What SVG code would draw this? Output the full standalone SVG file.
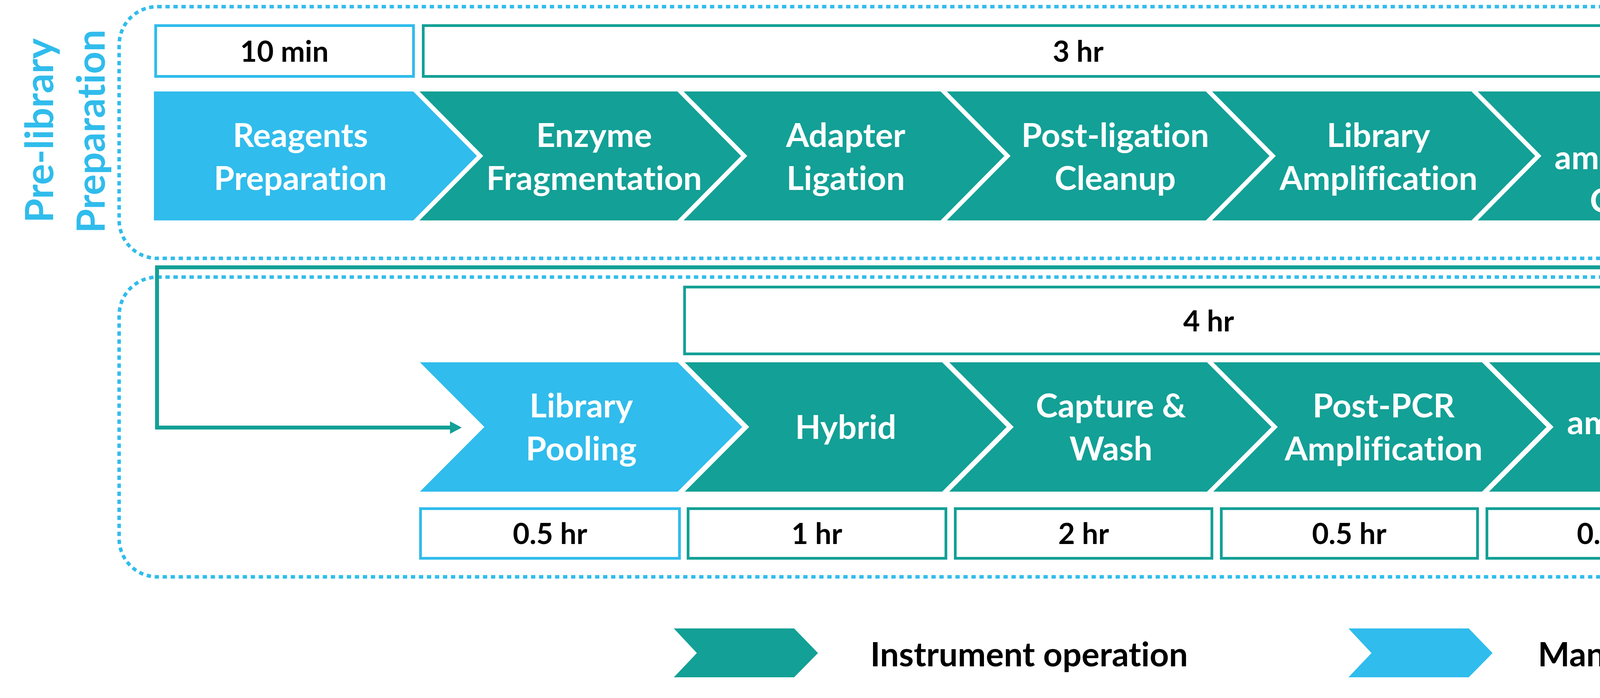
<svg xmlns="http://www.w3.org/2000/svg" width="5746" height="1786" viewBox="0 0 5746 1786">
<style>
.t{font-family:Lato,"Liberation Sans",sans-serif;font-weight:700;text-anchor:middle;font-variant-ligatures:none;font-feature-settings:"liga" 0}
.w{fill:#FFFFFF;font-size:85px}
.k{fill:#000000;font-size:74px}
.v{fill:#30BCEC;font-size:100px}
.lg{font-family:Lato,"Liberation Sans",sans-serif;font-weight:700;fill:#000000;font-size:86px;font-variant-ligatures:none;font-feature-settings:"liga" 0}
.blue{fill:#30BCEC}
.teal{fill:#13A096}
.bb{fill:#FFFFFF;stroke:#30BCEC;stroke-width:7}
.tb{fill:#FFFFFF;stroke:#13A096;stroke-width:7}
.dot{fill:none;stroke:#30BCEC;stroke-width:9;stroke-dasharray:11 9.5}
.conn{fill:none;stroke:#13A096;stroke-width:10}
</style>
<rect width="5746" height="1786" fill="#FFFFFF"/>

<g id="frames">
<rect class="dot" x="305" y="17" width="5181" height="644" rx="98" ry="98"/>
<rect class="dot" x="305" y="709" width="5181" height="767" rx="98" ry="98"/>
</g>

<g id="section-labels">
<text class="t v" transform="translate(136,334) rotate(-90)">Pre-library</text>
<text class="t v" transform="translate(268,336) rotate(-90)">Preparation</text>
<text class="t v" transform="translate(5651,1088) rotate(-90)">Hybrid Capture</text>
</g>

<g id="connectors">
<path class="conn" d="M5280 399 H5397 V684 H402 V1094 H1156"/>
<polygon class="teal" points="1152,1078 1182,1094 1152,1110"/>
</g>

<g id="time-row1">
<g id="t-10min"><rect class="bb" x="398.5" y="65.5" width="660" height="130"/><text class="t k" x="728" y="158">10 min</text></g>
<g id="t-3hr"><rect class="tb" x="1083.5" y="65.5" width="3352" height="130"/><text class="t k" x="2760" y="158">3 hr</text></g>
<g id="t-05hr-a"><rect class="bb" x="4464.5" y="65.5" width="656" height="130"/><text class="t k" x="4792" y="158">0.5 hr</text></g>
</g>

<g id="row1">
<g id="n-reagents"><polygon class="blue" points="394,234 1058,234 1221,399 1058,564 394,564"/>
<text class="t w" x="769" y="376">Reagents</text><text class="t w" x="769" y="486">Preparation</text></g>
<g id="n-enzyme"><polygon class="teal" points="1074,234 1734,234 1897,399 1734,564 1074,564 1237,399"/>
<text class="t w" x="1521" y="376">Enzyme</text><text class="t w" x="1521" y="486">Fragmentation</text></g>
<g id="n-adapter"><polygon class="teal" points="1750,234 2408,234 2571,399 2408,564 1750,564 1913,399"/>
<text class="t w" x="2165" y="376">Adapter</text><text class="t w" x="2165" y="486">Ligation</text></g>
<g id="n-postlig"><polygon class="teal" points="2424,234 3087,234 3250,399 3087,564 2424,564 2587,399"/>
<text class="t w" x="2855" y="376">Post-ligation</text><text class="t w" x="2855" y="486">Cleanup</text></g>
<g id="n-libamp"><polygon class="teal" points="3103,234 3767,234 3930,399 3767,564 3103,564 3266,399"/>
<text class="t w" x="3529" y="376">Library</text><text class="t w" x="3529" y="486">Amplification</text></g>
<g id="n-postamp1"><polygon class="teal" points="3783,234 4446,234 4609,399 4446,564 3783,564 3946,399"/>
<text class="t w" x="4225" y="323">Post-</text><text class="t w" x="4225" y="433">amplification</text><text class="t w" x="4225" y="543">Cleanup</text></g>
<g id="n-prelibqc"><polygon class="blue" points="4463,234 5121,234 5284,399 5121,564 4463,564 4626,399"/>
<text class="t w" x="4879" y="376">Pre-Library</text><text class="t w" x="4879" y="486">QC</text></g>
</g>

<g id="time-row2-top">
<g id="t-4hr"><rect class="tb" x="1752.5" y="734.5" width="2684" height="171"/><text class="t k" x="3094" y="848">4 hr</text></g>
</g>

<g id="row2">
<g id="n-pooling"><polygon class="blue" points="1075,927 1735,927 1900,1092.5 1735,1258 1075,1258 1240,1092.5"/>
<text class="t w" x="1488" y="1068">Library</text><text class="t w" x="1488" y="1178">Pooling</text></g>
<g id="n-hybrid"><polygon class="teal" points="1753,927 2412,927 2577,1092.5 2412,1258 1753,1258 1918,1092.5"/>
<text class="t w" x="2165" y="1123">Hybrid</text></g>
<g id="n-capture"><polygon class="teal" points="2430,927 3090,927 3255,1092.5 3090,1258 2430,1258 2595,1092.5"/>
<text class="t w" x="2844" y="1068">Capture &amp;</text><text class="t w" x="2844" y="1178">Wash</text></g>
<g id="n-postpcr"><polygon class="teal" points="3106,927 3794,927 3959,1092.5 3794,1258 3106,1258 3271,1092.5"/>
<text class="t w" x="3542" y="1068">Post-PCR</text><text class="t w" x="3542" y="1178">Amplification</text></g>
<g id="n-postamp2"><polygon class="teal" points="3812,927 4508,927 4673,1092.5 4508,1258 3812,1258 3977,1092.5"/>
<text class="t w" x="4257" y="1001">Post-</text><text class="t w" x="4257" y="1111">amplification</text><text class="t w" x="4257" y="1221">Cleanup</text></g>
<g id="n-libqc"><polygon class="blue" points="4525,927 5180,927 5345,1092.5 5180,1258 4525,1258 4690,1092.5"/>
<text class="t w" x="4936" y="1123">Library QC</text></g>
</g>

<g id="time-row2-bottom">
<g id="t-b1"><rect class="bb" x="1076.5" y="1301.5" width="663" height="127"/><text class="t k" x="1408" y="1392">0.5 hr</text></g>
<g id="t-b2"><rect class="tb" x="1761.5" y="1301.5" width="660" height="127"/><text class="t k" x="2091" y="1392">1 hr</text></g>
<g id="t-b3"><rect class="tb" x="2445.5" y="1301.5" width="657" height="127"/><text class="t k" x="2774" y="1392">2 hr</text></g>
<g id="t-b4"><rect class="tb" x="3126.5" y="1301.5" width="656" height="127"/><text class="t k" x="3454" y="1392">0.5 hr</text></g>
<g id="t-b5"><rect class="tb" x="3806.5" y="1301.5" width="652" height="127"/><text class="t k" x="4132" y="1392">0.5 hr</text></g>
<g id="t-b6"><rect class="bb" x="4483.5" y="1301.5" width="654" height="127"/><text class="t k" x="4810" y="1392">0.5 hr</text></g>
</g>

<g id="legend">
<g id="legend-instrument"><polygon class="teal" points="1725,1608 2033,1608 2094,1671 2033,1733 1725,1733 1784,1671"/>
<text class="lg" x="2228" y="1705">Instrument operation</text></g>
<g id="legend-manual"><polygon class="blue" points="3452,1608 3760,1608 3821,1671 3760,1733 3452,1733 3511,1671"/>
<text class="lg" x="3937" y="1705">Manual operation</text></g>
</g>
</svg>
